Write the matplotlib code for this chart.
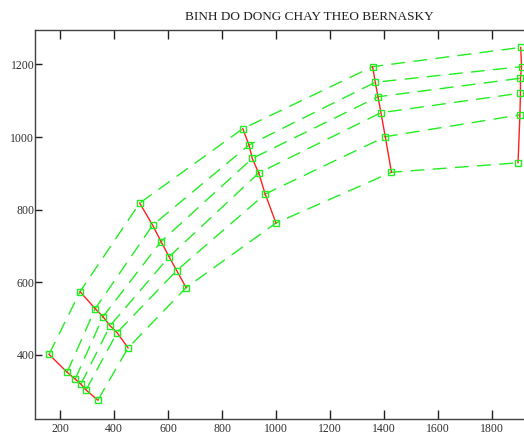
import matplotlib
matplotlib.use("Agg")
import matplotlib.pyplot as plt
import numpy as np

title = "BINH DO DONG CHAY THEO BERNASKY"

# Each section (column) has 6 points: (x, y)
sec1_x = [159, 226, 256, 277, 296, 340]
sec1_y = [401, 352, 333, 319, 303, 275]
sec2_x = [274, 330, 359, 385, 411, 452]
sec2_y = [574, 527, 505, 480, 461, 419]
sec3_x = [495, 543, 574, 604, 632, 667]
sec3_y = [818, 757, 712, 670, 632, 585]
sec4_x = [877, 900, 912, 936, 960, 1000]
sec4_y = [1023, 978, 941, 901, 843, 763]
sec5_x = [1358, 1368, 1378, 1389, 1405, 1428]
sec5_y = [1194, 1151, 1111, 1067, 1001, 903]
sec6_x = [1907, 1910, 1906, 1906, 1904, 1897]
sec6_y = [1247, 1194, 1162, 1121, 1061, 929]

xticks = [200, 400, 600, 800, 1000, 1200, 1400, 1600, 1800]
yticks = [400, 600, 800, 1000, 1200]

plt.rcParams['font.family'] = ['Liberation Serif', 'DejaVu Serif']

W, H = 524, 436
fig = plt.figure(figsize=(W / 100, H / 100), dpi=100)
left, right, bottom, top = 35, 589, 419, 30
ax = fig.add_axes([left / W, (H - bottom) / H, (right - left) / W, (bottom - top) / H])

xs = np.array([sec1_x, sec2_x, sec3_x, sec4_x, sec5_x, sec6_x])
ys = np.array([sec1_y, sec2_y, sec3_y, sec4_y, sec5_y, sec6_y])

green = '#22ee22'
# green dashed lines connecting corresponding points across sections
for j in range(xs.shape[1]):
    ax.plot(xs[:, j], ys[:, j], color=green, lw=1.0, dashes=(10, 6), zorder=2)
# red lines within each section
for i in range(xs.shape[0]):
    ax.plot(xs[i], ys[i], color='#ff2020', lw=1.0, zorder=3)
    ax.plot(xs[i], ys[i], ls='none', marker='s', ms=5, mfc='none',
            mec=green, mew=1.0, zorder=4)

ax.set_xlim(107, 2160)
ax.set_ylim(223, 1295)
ax.set_xticks(xticks)
ax.set_yticks(yticks)

for s in ['left', 'bottom', 'top']:
    ax.spines[s].set_color('#404040')
    ax.spines[s].set_linewidth(1.0)
ax.spines['right'].set_visible(False)

ax.tick_params(axis='x', direction='in', length=6.5, width=1, color='#202020',
               labelsize=8.5, labelcolor='#303030', pad=3, top=True)
ax.tick_params(axis='y', direction='in', length=5, width=1, color='#202020',
               labelsize=8.5, labelcolor='#303030', pad=0.5)

fig.text(309 / W, (H - 17) / H, title, ha='center', va='center',
         fontsize=9.5, color='#202020')

fig.savefig('out.png', dpi=100)
